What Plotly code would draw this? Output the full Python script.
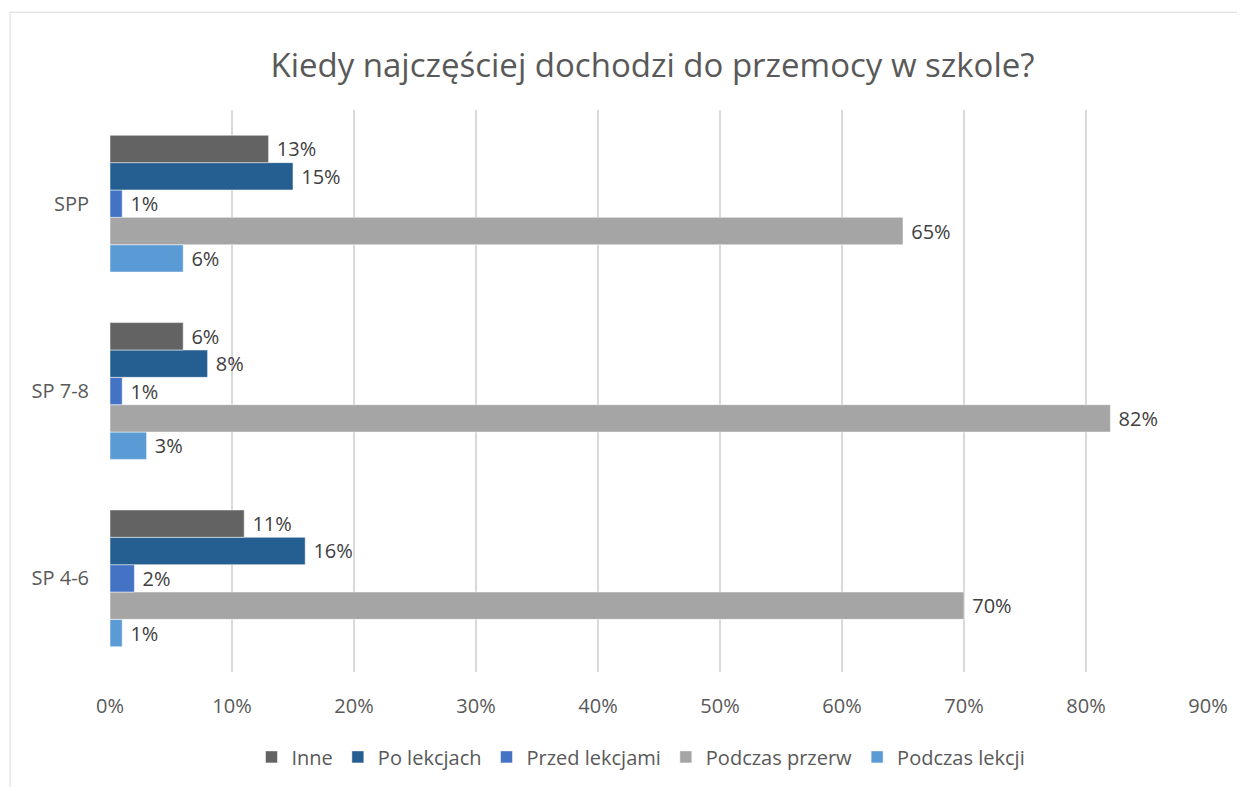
import plotly.graph_objects as go

CATEGORIES = ["SP 4-6", "SP 7-8", "SPP"]
SERIES = ["Inne", "Po lekcjach", "Przed lekcjami", "Podczas przerw", "Podczas lekcji"]
INNE = [11, 6, 13]
PO_LEKCJACH = [16, 8, 15]
PRZED_LEKCJAMI = [2, 1, 1]
PODCZAS_PRZERW = [70, 82, 65]
PODCZAS_LEKCJI = [1, 3, 6]
COLORS = ["#636363", "#255E91", "#4472C4", "#A5A5A5", "#5B9BD5"]
X_TICKS = [0, 0.1, 0.2, 0.3, 0.4, 0.5, 0.6, 0.7, 0.8, 0.9]
X_TICK_TEXT = ["0%", "10%", "20%", "30%", "40%", "50%", "60%", "70%", "80%", "90%"]

FONT = "Open Sans"
TEXT_COLOR = "#595959"
GRID = "#D9D9D9"

values = [INNE, PO_LEKCJACH, PRZED_LEKCJAMI, PODCZAS_PRZERW, PODCZAS_LEKCJI]

fig = go.Figure()
# plotly puts the first trace at the bottom of each group, so add in reverse
for name, vals, color in reversed(list(zip(SERIES, values, COLORS))):
    fig.add_trace(
        go.Bar(
            y=CATEGORIES,
            x=[v / 100 for v in vals],
            orientation="h",
            name=name,
            marker={"color": color, "line": {"color": "#FFFFFF", "width": 0.5}},
            text=[f"\u00a0{v}%" for v in vals],
            textposition="outside",
            textfont={"family": FONT, "size": 20, "color": "#404040"},
            cliponaxis=False,
        )
    )

# thin outer chart border (only top and left are visible in the frame)
fig.add_shape(
    type="rect",
    xref="paper",
    yref="paper",
    x0=-0.091,
    x1=1.2,
    y0=-0.4,
    y1=1.174,
    line={"color": GRID, "width": 1},
    fillcolor="rgba(0,0,0,0)",
    layer="below",
)

fig.update_layout(
    width=1237,
    height=779,
    paper_bgcolor="#FFFFFF",
    plot_bgcolor="#FFFFFF",
    margin={"l": 102, "r": 37, "t": 102, "b": 114},
    barmode="group",
    bargap=0.27,
    bargroupgap=0,
    title={
        "text": "Kiedy najczęściej dochodzi do przemocy w szkole?",
        "x": 0.521,
        "xanchor": "center",
        "y": 0.926,
        "yanchor": "middle",
        "font": {"family": FONT, "size": 33, "color": TEXT_COLOR},
    },
    xaxis={
        "range": [0, 0.9],
        "tickvals": X_TICKS,
        "ticktext": X_TICK_TEXT,
        "showgrid": True,
        "gridcolor": GRID,
        "gridwidth": 1.5,
        "zeroline": False,
        "showline": False,
        "ticks": "",
        "ticklabelstandoff": 20,
        "tickfont": {"family": FONT, "size": 20, "color": TEXT_COLOR},
    },
    yaxis={
        "categoryorder": "array",
        "categoryarray": CATEGORIES,
        "range": [-0.5, 2.5],
        "showgrid": False,
        "showline": False,
        "ticks": "",
        "ticklabelstandoff": 20,
        "tickfont": {"family": FONT, "size": 20, "color": TEXT_COLOR},
    },
    legend={
        "orientation": "h",
        "traceorder": "reversed",
        "x": 0.4836,
        "xanchor": "center",
        "y": -0.149,
        "yanchor": "middle",
        "font": {"family": FONT, "size": 20, "color": TEXT_COLOR},
        "itemwidth": 30,
    },
    showlegend=True,
)

fig.write_html("out.html")
